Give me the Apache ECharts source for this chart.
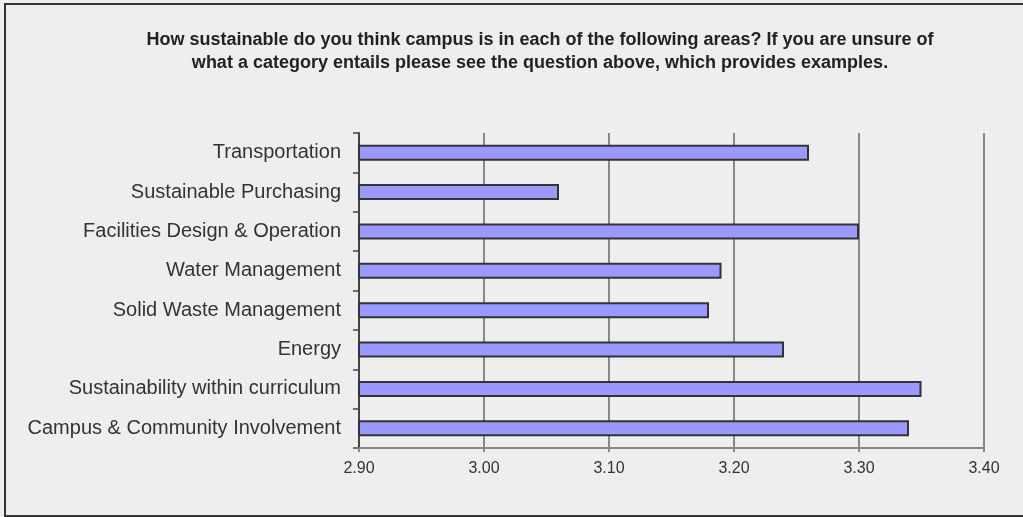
<!DOCTYPE html>
<html>
<head>
<meta charset="utf-8">
<script src="https://cdn.jsdelivr.net/npm/echarts@6/dist/echarts.min.js"></script>
<style>
html,body{margin:0;padding:0;background:#eeeeee;}
#chart{width:1023px;height:517px;}
</style>
</head>
<body>
<div id="chart"></div>
<script>
const titleText = 'How sustainable do you think campus is in each of the following areas? If you are unsure of\nwhat a category entails please see the question above, which provides examples.';
const categories = [
  'Transportation',
  'Sustainable Purchasing',
  'Facilities Design & Operation',
  'Water Management',
  'Solid Waste Management',
  'Energy',
  'Sustainability within curriculum',
  'Campus & Community Involvement'
];
const values = [3.26, 3.06, 3.30, 3.19, 3.18, 3.24, 3.35, 3.34];
const axisMin = 2.9, axisMax = 3.4, axisStep = 0.1;

const chart = echarts.init(document.getElementById('chart'));
chart.setOption({
  backgroundColor: '#eeeeee',
  animation: false,
  textStyle: { fontFamily: 'Liberation Sans, Arial, sans-serif' },
  graphic: [{
    type: 'rect',
    shape: { x: 5, y: 4, width: 1030, height: 512 },
    style: { fill: 'none', stroke: '#333', lineWidth: 2 },
    silent: true
  }],
  title: {
    text: titleText,
    left: 535,
    top: 24,
    textAlign: 'center',
    textStyle: { fontSize: 18, fontWeight: 'bold', color: '#222', lineHeight: 23, fontFamily: 'Liberation Sans, Arial, sans-serif', align: 'center' }
  },
  grid: { left: 359, right: 39, top: 133, bottom: 69, containLabel: false },
  xAxis: {
    type: 'value',
    min: axisMin, max: axisMax, interval: axisStep,
    axisLine: { show: true, lineStyle: { color: '#888', width: 2 } },
    axisTick: { show: true, length: 4, lineStyle: { color: '#888', width: 2 } },
    splitLine: { show: true, lineStyle: { color: '#888', width: 2 } },
    axisLabel: { formatter: v => v.toFixed(2), color: '#333', fontSize: 16, margin: 13 }
  },
  yAxis: {
    type: 'category',
    inverse: true,
    data: categories,
    axisLine: { show: true, lineStyle: { color: '#444', width: 2 } },
    axisTick: { show: true, length: 6, lineStyle: { color: '#444', width: 1.5 } },
    axisLabel: { color: '#333', fontSize: 20, margin: 18 }
  },
  series: [{
    type: 'bar',
    data: values,
    barWidth: 16,
    itemStyle: { color: '#9999ff', borderColor: '#333', borderWidth: 2 }
  }]
});
</script>
</body>
</html>
